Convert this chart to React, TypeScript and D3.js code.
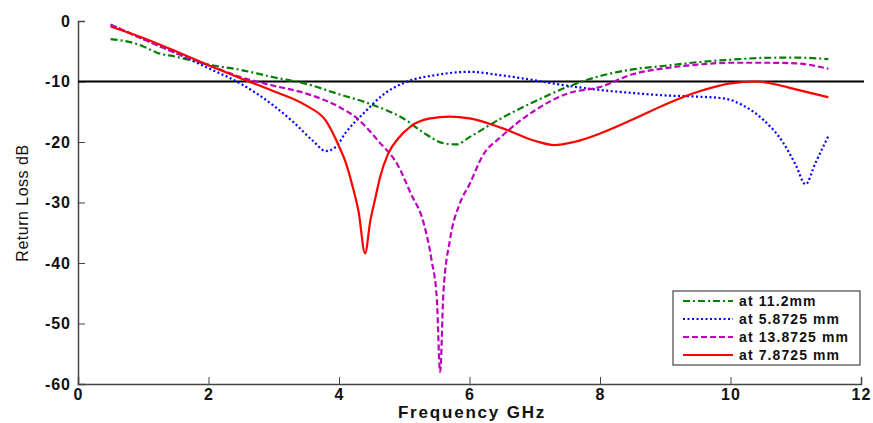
import { useEffect, useRef } from "react";
import * as d3 from "d3";

type Pt = [number, number];

// frequency (GHz), return loss (dB)
const at112: Pt[] = [
  [0.5, -3.0], [0.8, -3.5], [1.0, -4.2], [1.2, -5.2], [1.5, -5.9], [2.0, -7.2],
  [2.5, -8.1], [3.0, -9.3], [3.5, -10.4], [4.0, -12.1], [4.5, -13.8], [5.0, -16.2],
  [5.3, -18.5], [5.6, -20.2], [5.8, -20.4], [6.0, -19.2], [6.5, -16.0], [7.0, -13.3],
  [7.5, -10.9], [8.0, -9.1], [8.5, -8.0], [9.0, -7.4], [9.5, -6.8], [10.0, -6.4],
  [10.5, -6.1], [11.0, -6.05], [11.5, -6.3],
];

const at58725: Pt[] = [
  [0.5, -0.6], [1.0, -3.0], [1.5, -5.3], [2.0, -7.8], [2.5, -10.4], [3.0, -14.0],
  [3.3, -16.7], [3.6, -19.8], [3.8, -21.5], [3.95, -20.8], [4.1, -18.5], [4.4, -15.0],
  [4.7, -12.0], [5.0, -10.2], [5.5, -8.9], [6.0, -8.4], [6.5, -9.0], [7.0, -9.8],
  [7.5, -10.7], [8.0, -11.4], [8.5, -11.9], [9.0, -12.3], [9.5, -12.5], [9.9, -12.8],
  [10.2, -14.0], [10.5, -16.3], [10.8, -20.0], [11.0, -23.8], [11.15, -27.0],
  [11.3, -23.5], [11.5, -19.0],
];

const at138725: Pt[] = [
  [0.5, -0.6], [1.0, -3.0], [1.5, -5.3], [2.0, -7.3], [2.5, -9.3], [3.0, -10.7],
  [3.5, -12.0], [4.0, -14.2], [4.3, -16.3], [4.6, -19.8], [4.9, -23.8], [5.1, -28.5],
  [5.3, -33.5], [5.42, -39.6], [5.5, -46.0], [5.55, -58.0], [5.6, -45.0], [5.7, -36.2],
  [5.85, -30.2], [6.0, -27.0], [6.2, -22.3], [6.5, -19.0], [7.0, -14.8], [7.5, -12.0],
  [8.0, -10.9], [8.5, -8.8], [9.0, -7.8], [9.5, -7.2], [10.0, -6.9], [10.5, -6.9],
  [11.0, -7.0], [11.5, -7.9],
];

const at78725: Pt[] = [
  [0.5, -0.9], [1.0, -2.8], [1.5, -5.0], [2.0, -7.3], [2.5, -9.5], [3.0, -11.6],
  [3.5, -14.0], [3.8, -16.5], [4.0, -20.7], [4.1, -23.3], [4.2, -27.0], [4.3, -31.5],
  [4.4, -38.4], [4.48, -33.0], [4.55, -29.6], [4.63, -25.8], [4.75, -22.0], [4.9, -19.5],
  [5.1, -17.4], [5.4, -16.1], [5.7, -15.8], [6.0, -16.1], [6.5, -17.7], [7.0, -19.8],
  [7.3, -20.5], [7.6, -20.0], [8.0, -18.6], [8.5, -16.3], [9.0, -13.8], [9.5, -11.7],
  [10.0, -10.3], [10.4, -10.0], [10.7, -10.5], [11.0, -11.3], [11.5, -12.6],
];

const seriesNames = ["at 11.2mm", "at 5.8725 mm", "at 13.8725 mm", "at 7.8725 mm"];
const xTicks = [0, 2, 4, 6, 8, 10, 12];
const yTicks = [0, -10, -20, -30, -40, -50, -60];
const threshold = -10;

export default function App() {
  const ref = useRef<SVGSVGElement>(null);

  useEffect(() => {
    const W = 873, H = 423;
    const m = { top: 21, left: 78 };
    const iW = 861 - m.left;
    const iH = 384 - m.top;

    const svg = d3.select(ref.current);
    svg.selectAll("*").remove();
    svg.attr("viewBox", `0 0 ${W} ${H}`);
    const g = svg.append("g").attr("transform", `translate(${m.left},${m.top})`);

    const x = d3.scaleLinear().domain([0, 12]).range([0, iW]);
    const y = d3.scaleLinear().domain([-60, 0]).range([iH, 0]);

    const font = "'Liberation Sans', Arial, sans-serif";

    // axes
    g.append("g").attr("transform", `translate(0,${iH})`)
      .call(d3.axisBottom(x).tickValues(xTicks).tickSize(-7).tickPadding(5).tickFormat(d => String(d)))
      .call(ax => ax.select(".domain").attr("stroke", "#444").attr("stroke-width", 1.5))
      .call(ax => ax.selectAll("line").attr("stroke", "#444"))
      .call(ax => ax.selectAll("text").attr("fill", "#111").attr("font-size", "16px")
        .attr("font-weight", "bold").attr("font-family", font).attr("letter-spacing", "1px"));

    g.append("g")
      .call(d3.axisLeft(y).tickValues(yTicks).tickSize(-7).tickPadding(7).tickFormat(d => String(d)))
      .call(ax => ax.select(".domain").attr("stroke", "#444").attr("stroke-width", 1.5))
      .call(ax => ax.selectAll("line").attr("stroke", "#444"))
      .call(ax => ax.selectAll("text").attr("fill", "#111").attr("font-size", "16px")
        .attr("font-weight", "bold").attr("font-family", font).attr("letter-spacing", "1px"));

    // -10 dB line
    g.append("line")
      .attr("x1", 0).attr("x2", iW + 3).attr("y1", y(threshold)).attr("y2", y(threshold))
      .attr("stroke", "#000").attr("stroke-width", 2);

    const line = d3.line<Pt>().x(d => x(d[0])).y(d => y(d[1])).curve(d3.curveMonotoneX);

    const styles = [
      { data: at112, color: "#008000", dash: "7,3,2,3" },
      { data: at58725, color: "#0000ff", dash: "2,2.5" },
      { data: at138725, color: "#bf00bf", dash: "6,3" },
      { data: at78725, color: "#ff0000", dash: null },
    ];

    styles.forEach(s => {
      g.append("path").datum(s.data)
        .attr("fill", "none").attr("stroke", s.color).attr("stroke-width", 2.2)
        .attr("stroke-dasharray", s.dash).attr("d", line);
    });

    // axis titles
    svg.append("text").attr("x", 472).attr("y", 418).attr("text-anchor", "middle")
      .attr("font-size", "17px").attr("font-weight", "bold").attr("font-family", font)
      .attr("letter-spacing", "1.8px").attr("fill", "#111").text("Frequency GHz");
    svg.append("text").attr("transform", "translate(28,203) rotate(-90)").attr("text-anchor", "middle")
      .attr("font-size", "16px").attr("font-family", font).attr("letter-spacing", "0.5px")
      .attr("fill", "#111").text("Return Loss dB");

    // legend
    const lg = svg.append("g").attr("transform", "translate(673,291)");
    lg.append("rect").attr("width", 187).attr("height", 74)
      .attr("fill", "#fff").attr("stroke", "#444").attr("stroke-width", 1.2);
    styles.forEach((s, i) => {
      const yy = 10 + i * 18;
      lg.append("line").attr("x1", 10).attr("x2", 60).attr("y1", yy).attr("y2", yy)
        .attr("stroke", s.color).attr("stroke-width", 2).attr("stroke-dasharray", s.dash);
      lg.append("text").attr("x", 66).attr("y", yy + 5)
        .attr("font-size", "14px").attr("font-weight", "bold").attr("font-family", font)
        .attr("letter-spacing", "1.1px").attr("fill", "#111").text(seriesNames[i]);
    });
  }, []);

  return <svg ref={ref} width={873} height={423} style={{ display: "block", position: "absolute", left: 0, top: 0 }} />;
}
